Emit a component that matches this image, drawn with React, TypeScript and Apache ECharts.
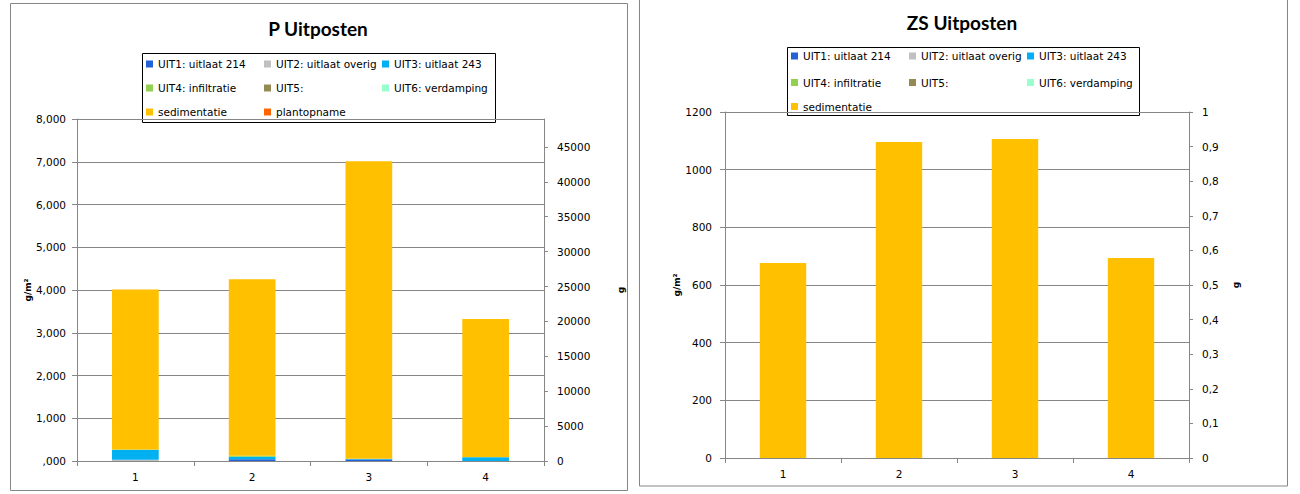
import React, { useEffect, useRef } from 'react';
import * as echarts from 'echarts';

const CATEGORIES = ['1', '2', '3', '4'];
const SERIES_NAMES = [
  'UIT1: uitlaat 214',
  'UIT2: uitlaat overig',
  'UIT3: uitlaat 243',
  'UIT4: infiltratie',
  'UIT5:',
  'UIT6: verdamping',
  'sedimentatie',
  'plantopname',
];
const SERIES_COLORS = ['#2361D6', '#C0C0C0', '#00B0F0', '#92D050', '#948A54', '#99FFCC', '#FFC000', '#FF6600'];

// P Uitposten (g/m2)
const P_UIT1 = [0, 40, 35, 0];
const P_UIT2 = [30, 0, 0, 0];
const P_UIT3 = [225, 60, 10, 90];
const P_UIT4 = [15, 20, 10, 5];
const P_UIT5 = [0, 0, 0, 0];
const P_UIT6 = [0, 0, 0, 0];
const P_SED = [3740, 4130, 6955, 3225];
const P_PLANT = [0, 0, 0, 0];
const P_VALUES = [P_UIT1, P_UIT2, P_UIT3, P_UIT4, P_UIT5, P_UIT6, P_SED, P_PLANT];

// ZS Uitposten (g/m2)
const ZS_UIT1 = [0, 0, 0, 0];
const ZS_UIT2 = [0, 0, 0, 0];
const ZS_UIT3 = [0, 0, 0, 0];
const ZS_UIT4 = [0, 0, 0, 0];
const ZS_UIT5 = [0, 0, 0, 0];
const ZS_UIT6 = [0, 0, 0, 0];
const ZS_SED = [676, 1096, 1106, 694];
const ZS_VALUES = [ZS_UIT1, ZS_UIT2, ZS_UIT3, ZS_UIT4, ZS_UIT5, ZS_UIT6, ZS_SED];

// axis scales / tick labels
const P_LEFT_MAX = 8000;
const P_LEFT_STEP = 1000;
const P_RIGHT_MAX = 49000;
const P_RIGHT_TICKS = [0, 5000, 10000, 15000, 20000, 25000, 30000, 35000, 40000, 45000];
const ZS_LEFT_MAX = 1200;
const ZS_LEFT_STEP = 200;
const ZS_RIGHT_MAX = 1;
const ZS_RIGHT_STEP = 0.1;

const GRAY = '#868686';
const FONT = 'DejaVu Sans';

const fmtThousands = (v: number) =>
  v === 0 ? ',000' : String(Math.round(v)).replace(/\B(?=(\d{3})+(?!\d))/g, ',');

export default function App() {
  const ref = useRef<HTMLDivElement>(null);

  useEffect(() => {
    if (!ref.current) return;
    const chart = echarts.init(ref.current, undefined, { renderer: 'svg' });

    const labelStyle = { color: '#000', fontFamily: FONT, fontSize: 10.5 };
    const nameStyle = { color: '#000', fontFamily: FONT, fontSize: 9, fontWeight: 'bold' as const };

    const legendLayouts = [
      { cols: [146, 264, 382], rows: [64, 88, 112], count: 8 },
      { cols: [791, 909, 1027], rows: [56, 82.5, 106.5], count: 7 },
    ];
    const legends: any[] = [];
    legendLayouts.forEach((lay) => {
      for (let i = 0; i < lay.count; i++) {
        legends.push({
          data: [SERIES_NAMES[i]],
          left: lay.cols[i % 3],
          top: lay.rows[Math.floor(i / 3)] - 6,
          padding: 0,
          itemWidth: 7,
          itemHeight: 7,
          icon: 'rect',
          selectedMode: false,
          textStyle: { color: '#000', fontFamily: FONT, fontSize: 10.5, lineHeight: 12 },
        });
      }
    });

    const catAxis = (gridIndex: number) => ({
      type: 'category',
      gridIndex,
      data: CATEGORIES,
      boundaryGap: true,
      axisLine: { lineStyle: { color: GRAY, width: 1 } },
      axisTick: { show: true, length: 5, interval: 0, lineStyle: { color: GRAY } },
      axisLabel: { ...labelStyle, margin: 10 },
      splitLine: { show: false },
    });

    const series: any[] = [];
    P_VALUES.forEach((vals, i) => {
      series.push({
        type: 'bar',
        name: SERIES_NAMES[i],
        stack: 'p',
        xAxisIndex: 0,
        yAxisIndex: 0,
        barWidth: '40%',
        itemStyle: { color: SERIES_COLORS[i] },
        data: vals,
      });
    });
    ZS_VALUES.forEach((vals, i) => {
      series.push({
        type: 'bar',
        name: SERIES_NAMES[i],
        stack: 'zs',
        xAxisIndex: 1,
        yAxisIndex: 2,
        barWidth: '40%',
        itemStyle: { color: SERIES_COLORS[i] },
        data: vals,
      });
    });

    chart.setOption({
      animation: false,
      backgroundColor: '#fff',
      legend: legends,
      grid: [
        { left: 77, right: 1300 - 544, top: 119, bottom: 494 - 461, containLabel: false },
        { left: 725, right: 1300 - 1189, top: 112, bottom: 494 - 458, containLabel: false },
      ],
      xAxis: [catAxis(0), catAxis(1)],
      yAxis: [
        {
          type: 'value',
          gridIndex: 0,
          position: 'left',
          min: 0,
          max: P_LEFT_MAX,
          interval: P_LEFT_STEP,
          name: 'g/m²',
          nameLocation: 'middle',
          nameRotate: 90,
          nameGap: 36,
          nameTextStyle: nameStyle,
          axisLine: { show: true, lineStyle: { color: GRAY } },
          axisTick: { show: true, length: 5, lineStyle: { color: GRAY } },
          axisLabel: { ...labelStyle, margin: 11, formatter: fmtThousands },
          splitLine: { show: true, lineStyle: { color: GRAY, width: 1 } },
        },
        {
          type: 'value',
          gridIndex: 0,
          position: 'right',
          min: 0,
          max: P_RIGHT_MAX,
          interval: 5000,
          name: 'g',
          nameLocation: 'middle',
          nameRotate: 90,
          nameGap: 72,
          nameTextStyle: nameStyle,
          axisLine: { show: true, lineStyle: { color: GRAY } },
          axisTick: { show: true, length: 4, customValues: P_RIGHT_TICKS, lineStyle: { color: GRAY } },
          axisLabel: {
            ...labelStyle,
            margin: 13,
            customValues: P_RIGHT_TICKS,
            formatter: (v: number) => (v % 5000 === 0 ? String(v) : ''),
          },
          splitLine: { show: false },
        },
        {
          type: 'value',
          gridIndex: 1,
          position: 'left',
          min: 0,
          max: ZS_LEFT_MAX,
          interval: ZS_LEFT_STEP,
          name: 'g/m²',
          nameLocation: 'middle',
          nameRotate: 90,
          nameGap: 40,
          nameTextStyle: nameStyle,
          axisLine: { show: true, lineStyle: { color: GRAY } },
          axisTick: { show: true, length: 5, lineStyle: { color: GRAY } },
          axisLabel: { ...labelStyle, margin: 13, formatter: (v: number) => String(v) },
          splitLine: { show: true, lineStyle: { color: GRAY, width: 1 } },
        },
        {
          type: 'value',
          gridIndex: 1,
          position: 'right',
          min: 0,
          max: ZS_RIGHT_MAX,
          interval: ZS_RIGHT_STEP,
          name: 'g',
          nameLocation: 'middle',
          nameRotate: 90,
          nameGap: 42,
          nameTextStyle: nameStyle,
          axisLine: { show: true, lineStyle: { color: GRAY } },
          axisTick: { show: true, length: 4, lineStyle: { color: GRAY } },
          axisLabel: {
            ...labelStyle,
            margin: 13,
            formatter: (v: number) => String(Math.round(v * 10) / 10).replace('.', ','),
          },
          splitLine: { show: false },
        },
      ],
      graphic: [
        {
          type: 'rect',
          silent: true,
          shape: { x: 10.5, y: 3.5, width: 617, height: 487 },
          style: { fill: 'none', stroke: GRAY, lineWidth: 1 },
        },
        {
          type: 'rect',
          silent: true,
          shape: { x: 639.5, y: -2, width: 648, height: 488 },
          style: { fill: 'none', stroke: GRAY, lineWidth: 1 },
        },
        {
          type: 'rect',
          silent: true,
          shape: { x: 142.5, y: 53.5, width: 353, height: 69 },
          style: { fill: 'none', stroke: '#000', lineWidth: 1 },
        },
        {
          type: 'rect',
          silent: true,
          shape: { x: 787.5, y: 47.5, width: 352, height: 68 },
          style: { fill: 'none', stroke: '#000', lineWidth: 1 },
        },
        {
          type: 'text',
          silent: true,
          x: 318,
          y: 28,
          style: {
            text: 'P Uitposten',
            textAlign: 'center',
            textVerticalAlign: 'middle',
            fill: '#000',
            font: 'bold 19px Lato',
          },
        },
        {
          type: 'text',
          silent: true,
          x: 962,
          y: 22,
          style: {
            text: 'ZS Uitposten',
            textAlign: 'center',
            textVerticalAlign: 'middle',
            fill: '#000',
            font: 'bold 19px Lato',
          },
        },
      ],
      series,
    });

    return () => chart.dispose();
  }, []);

  return (
    <div
      ref={ref}
      style={{ position: 'absolute', left: 0, top: 0, width: 1300, height: 494 }}
    />
  );
}
